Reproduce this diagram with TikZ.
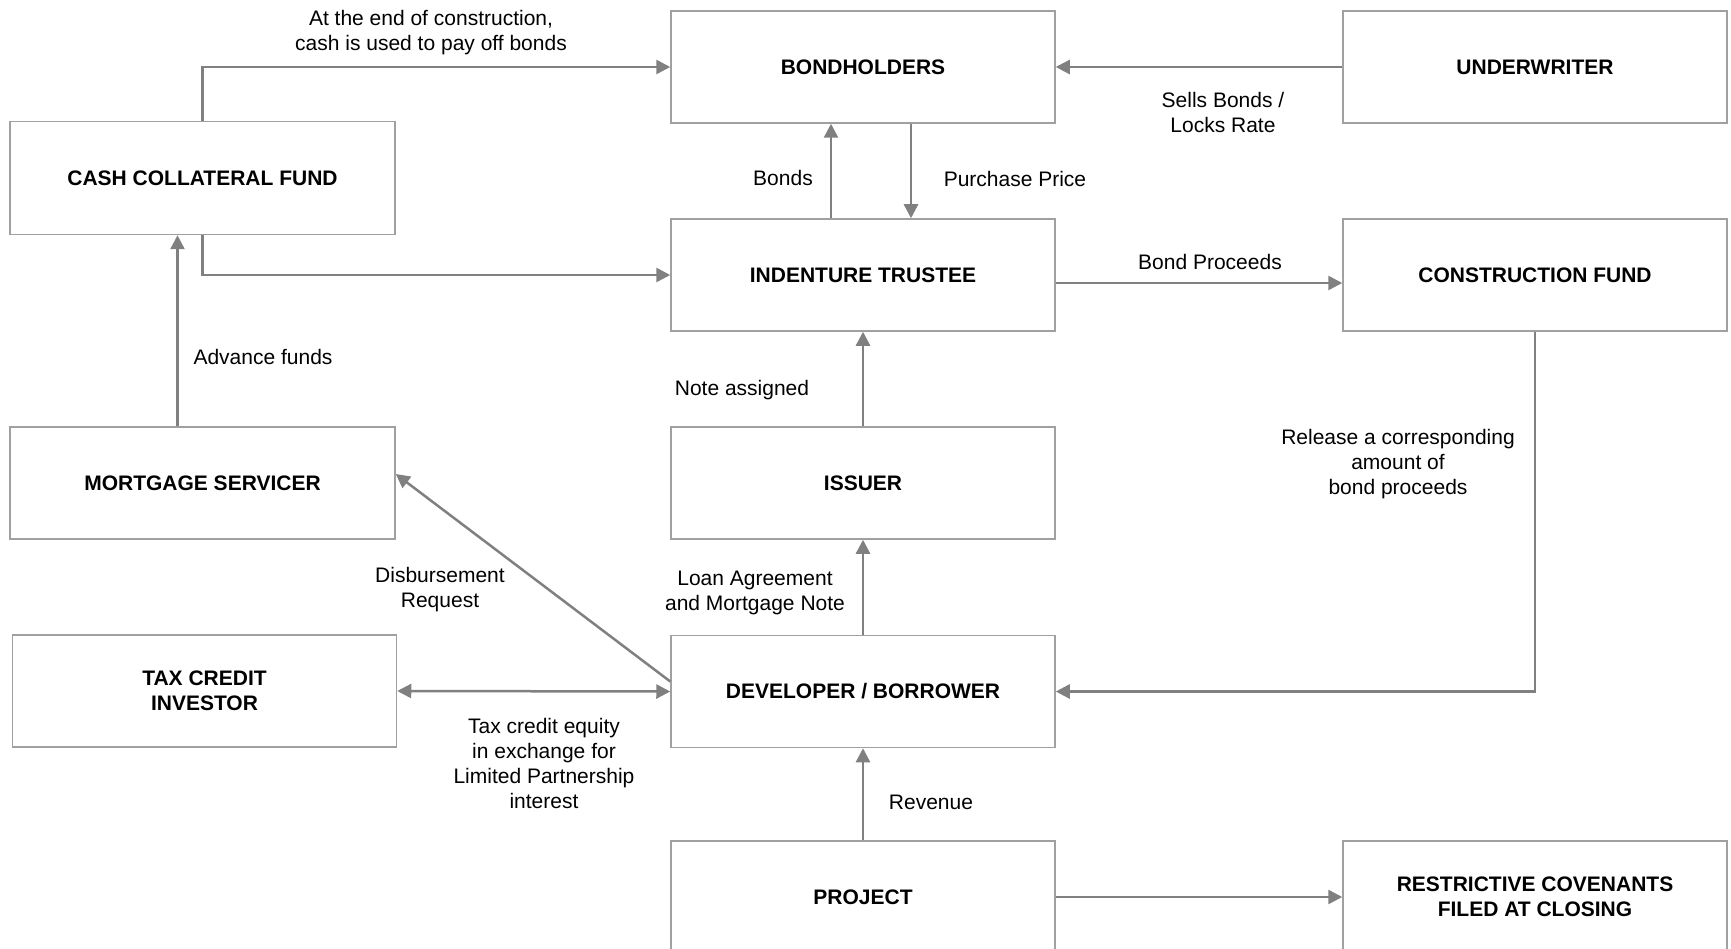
\documentclass[tikz,border=0pt]{standalone}
\usepackage{fontspec}
\setmainfont{Liberation Sans}
\usetikzlibrary{arrows.meta}
\definecolor{boxgray}{HTML}{A0A0A0}
\definecolor{arrgray}{HTML}{808080}
\begin{document}
\begin{tikzpicture}[x=1pt,y=-1pt,
  box/.style={draw=boxgray, line width=1.5pt, minimum width=384pt, minimum height=112pt, inner sep=0pt, align=center, font=\fontsize{21}{25}\selectfont\bfseries},
  lbl/.style={align=center, font=\fontsize{21}{25}\selectfont, inner sep=0pt},
  tip/.tip={Triangle[length=14pt,width=14pt]},
  arr/.style={draw=arrgray, line width=2.5pt, -tip}]
\useasboundingbox (0,0) rectangle (1731,949);
\fill[white] (0,0) rectangle (1731,949);
\node[box] (bh) at (863,67) {BONDHOLDERS};
\node[box] (uw) at (1535,67) {UNDERWRITER};
\node[box, minimum width=385pt, minimum height=113pt] (ccf) at (202.5,178) {CASH COLLATERAL FUND};
\node[box] (it) at (863,275) {INDENTURE TRUSTEE};
\node[box] (cf) at (1535,275) {CONSTRUCTION FUND};
\node[box, minimum width=385pt] (ms) at (202.5,483) {MORTGAGE SERVICER};
\node[box] (is) at (863,483) {ISSUER};
\node[box] (tci) at (204.5,691) {TAX CREDIT\\INVESTOR};
\node[box] (db) at (863,691.5) {DEVELOPER / BORROWER};
\node[box] (pr) at (863,897) {PROJECT};
\node[box] (rc) at (1535,897) {RESTRICTIVE COVENANTS\\FILED AT CLOSING};

\draw[arr] (ccf.north) |- (bh.west);
\draw[arr] (ccf.south) |- (it.west);
\draw[arr] ([xshift=-25pt]ms.north) -- ([xshift=-25pt]ccf.south);
\draw[arr] (uw.west) -- (bh.east);
\draw[arr] ([xshift=-32pt]it.north) -- ([xshift=-32pt]bh.south);
\draw[arr] ([xshift=48pt]bh.south) -- ([xshift=48pt]it.north);
\draw[arr] ([yshift=-8pt]it.east) -- ([yshift=-8pt]cf.west);
\draw[arr] (cf.south) |- (db.east);
\draw[arr] (is.north) -- (it.south);
\draw[arr] (db.north) -- (is.south);
\draw[arr] (pr.north) -- (db.south);
\draw[arr] ([yshift=10pt]db.west) -- ([yshift=9pt]ms.east);
\draw[arr, tip-tip] (tci.east) -- (db.west);
\draw[arr] (pr.east) -- (rc.west);

\node[lbl] (l1) at (431,33) {At the end of construction,\\cash is used to pay off bonds};
\node[lbl] (l2) at (1223,112) {Sells Bonds /\\Locks Rate};
\node[lbl] (l3) at (783,178) {Bonds};
\node[lbl] (l4) at (1015,179) {Purchase Price};
\node[lbl] (l5) at (1210,262) {Bond Proceeds};
\node[lbl] (l6) at (263,357) {Advance funds};
\node[lbl] (l7) at (742,390) {Note assigned};
\node[lbl] (l8) at (1398,464) {Release a corresponding\\amount of\\bond proceeds};
\node[lbl] (l9) at (755,593) {Loan Agreement\\and Mortgage Note};
\node[lbl] (l10) at (440,590) {Disbursement\\Request};
\node[lbl] (l11) at (544,763.5) {Tax credit equity\\in exchange for\\Limited Partnership\\interest};
\node[lbl] (l12) at (931,802) {Revenue};
\end{tikzpicture}
\end{document}
